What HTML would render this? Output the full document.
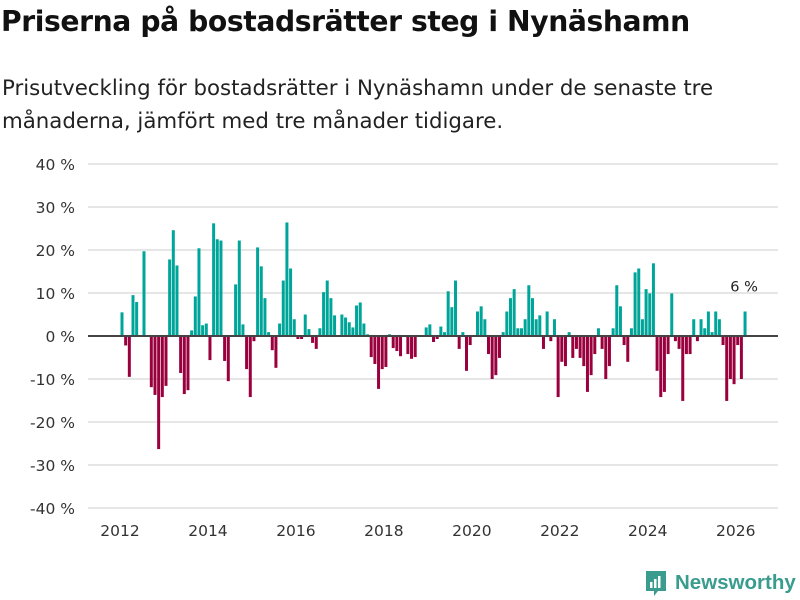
<!DOCTYPE html>
<html><head><meta charset="utf-8"><style>
body{margin:0;width:800px;height:600px;background:#fff;font-family:"DejaVu Sans","Liberation Sans",sans-serif;overflow:hidden;position:relative}
h1{position:absolute;left:1px;top:5px;margin:0;font-size:28.2px;font-weight:bold;color:#111;letter-spacing:-0.4px}
p{position:absolute;left:2px;top:72px;margin:0;font-size:21.3px;line-height:33px;color:#222}
svg{position:absolute;left:0;top:0}
</style></head><body>
<h1>Priserna på bostadsrätter steg i Nynäshamn</h1>
<p>Prisutveckling för bostadsrätter i Nynäshamn under de senaste tre<br>månaderna, jämfört med tre månader tidigare.</p>
<svg id="chart" width="800" height="600"></svg>
<script>
const values=[5.5,-2.2,-9.5,9.5,7.9,0,19.7,0,-11.9,-13.7,-26.3,-14.2,-11.6,17.8,24.6,16.4,-8.6,-13.5,-12.6,1.3,9.2,20.4,2.5,2.9,-5.6,26.2,22.5,22.2,-5.8,-10.5,0,12,22.2,2.7,-7.7,-14.2,-1.2,20.6,16.2,8.8,0.9,-3.3,-7.4,2.9,12.9,26.4,15.7,3.9,-0.7,-0.7,5,1.6,-1.6,-3,1.8,10.2,12.9,8.8,4.8,0,5,4.3,3.2,2,7.1,7.8,2.9,0.4,-4.9,-6.5,-12.3,-7.7,-7.2,0.4,-2.8,-3.5,-4.7,0,-4.2,-5.3,-4.9,0,0,2,2.7,-1.4,-0.7,2.2,0.9,10.4,6.7,12.9,-3,0.9,-8.1,-2.1,0,5.7,6.9,3.9,-4.2,-10,-9.1,-5.1,0.9,5.7,8.8,10.9,1.8,1.8,3.9,11.8,8.8,3.9,4.8,-3,5.7,-1.2,3.9,-14.2,-6,-7,0.9,-5.1,-3,-5.1,-7,-13,-9.1,-4.2,1.8,-3,-10,-7,1.8,11.8,6.9,-2.1,-6,1.8,14.8,15.7,3.9,10.9,9.9,16.9,-8.1,-14.2,-13,-4.2,9.9,-1.2,-3,-15.1,-4.2,-4.2,3.9,-1.2,3.9,1.8,5.7,0.9,5.7,3.9,-2.1,-15.1,-10,-11.2,-2.1,-10,5.7];
const startYear=2012;
const yTicks=[40,30,20,10,0,-10,-20,-30,-40];
const xTickYears=[2012,2014,2016,2018,2020,2022,2024,2026];
const NS='http://www.w3.org/2000/svg';
const svg=document.getElementById('chart');
const y=v=>336-v*4.3;
const x=m=>122+m*3.665;
function mk(t,a){const e=document.createElementNS(NS,t);for(const k in a)e.setAttribute(k,a[k]);svg.appendChild(e);return e;}
yTicks.forEach(v=>{
 if(v!==0){const g=mk('line',{x1:88,x2:778,y1:y(v),y2:y(v),stroke:'#ddd','stroke-width':1.5});
 
 }
 const t=mk('text',{x:75,y:y(v)+6,'text-anchor':'end','font-size':15.5,fill:'#333'});
 t.textContent=v+' %';
 
 
});
values.forEach((v,i)=>{
 if(v===0)return;
 const r=mk('rect',{x:x(i)-1.5,width:3,y:v>0?y(v):y(0),height:Math.abs(v)*4.3,fill:v>0?'#00a59a':'#99003d'});
 
 
});
const z=mk('line',{x1:88,x2:778,y1:y(0),y2:y(0),stroke:'#444','stroke-width':2});


xTickYears.forEach(yr=>{
 const t=mk('text',{x:x((yr-startYear)*12)-2,y:536,'text-anchor':'middle','font-size':15.5,fill:'#333'});
 t.textContent=yr;
 
 
});
const last=values.length-1;
const lb=mk('text',{x:x(last)-1,y:y(values[last])-20,'text-anchor':'middle','font-size':14.5,fill:'#222'});
lb.textContent=Math.round(values[last])+' %';


</script>
<div style="position:absolute;left:644px;top:569px;display:flex;align-items:center">
 <svg width="24" height="28" style="position:static"><path d="M2 2h20v20h-8l-4 5v-5H2z" fill="#3a9c8e"/><rect x="6" y="13" width="2.5" height="6" fill="#fff"/><rect x="10" y="10" width="2.5" height="9" fill="#fff"/><rect x="14" y="7" width="2.5" height="12" fill="#fff"/></svg>
 <span style="font-family:'Liberation Sans',sans-serif;font-size:20.5px;color:#3a9c8e;margin-left:7px;font-weight:bold">Newsworthy</span>
</div>
</body></html>
